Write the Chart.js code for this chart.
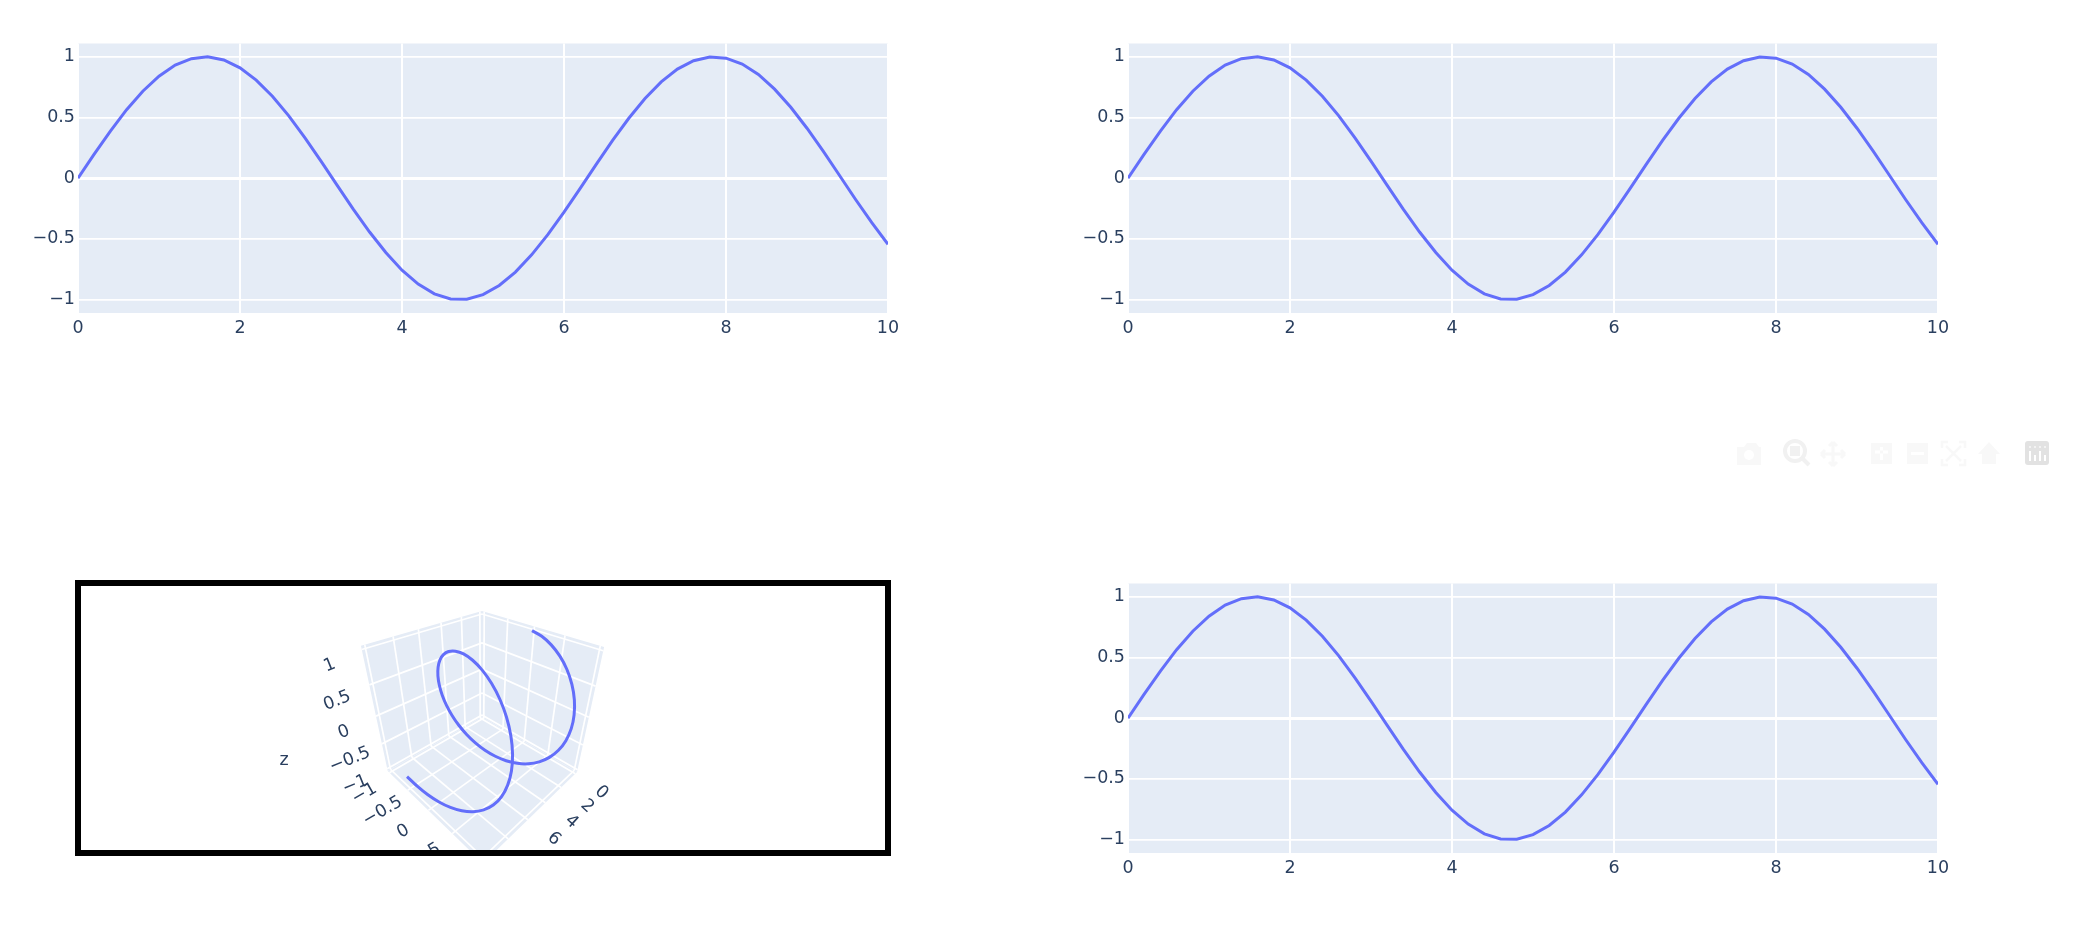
<!DOCTYPE html>
<html lang="en">
<head>
    <meta charset="UTF-8">
    <title>Subplots with a 3D scene</title>
    <script src="https://cdn.jsdelivr.net/npm/chart.js"></script>
    <style>
        html, body { margin: 0; background: #fff; overflow: hidden; }
        canvas { position: absolute; display: block; }
        #frame { position: absolute; left: 75px; top: 580px; width: 804px; height: 264px; border: 6px solid #000; }
        #modebar { position: absolute; left: 1720px; top: 430px; }
    </style>
</head>
<body>
    <canvas id="plot1" width="908" height="310" style="left: 0; top: 30px;"></canvas>
    <canvas id="plot2" width="908" height="310" style="left: 1050px; top: 30px;"></canvas>
    <canvas id="plot4" width="908" height="310" style="left: 1050px; top: 570px;"></canvas>
    <div id="frame"></div>
    <canvas id="scene" width="804" height="264" style="left: 81px; top: 586px;"></canvas>

    <svg id="modebar" width="362" height="50" viewBox="0 0 362 50">
        <g fill="#f8f8f8">
            <path d="M17 17h7l3-4h9l3 4h2v18h-24z"/>
            <rect x="151" y="13" width="21" height="21"/>
            <rect x="187" y="13" width="21" height="21"/>
            <path d="M258 24l11-12 11 12h-4v10h-14v-10z"/>
        </g>
        <circle cx="29" cy="25" r="5" fill="#fff"/>
        <path d="M113 12v24M101 24h24M113 12l-4 4M113 12l4 4M113 36l-4-4M113 36l4-4M101 24l4-4M101 24l4 4M125 24l-4-4M125 24l-4 4" stroke="#f8f8f8" stroke-width="3" fill="none"/>
        <path d="M155 23.500h13v-3h-13zM160 17h3v13h-3z" fill="#fff"/>
        <rect x="191" y="22" width="13" height="3" fill="#fff"/>
        <path d="M222 18v-6h6M239 12h6v6M245 29v6h-6M228 35h-6v-6M226 16l15 15M241 16l-15 15" stroke="#f8f8f8" stroke-width="2.500" fill="none"/>
        <circle cx="75" cy="21" r="10" fill="none" stroke="#f1f1f1" stroke-width="4"/>
        <rect x="70" y="16" width="10" height="10" fill="#f1f1f1"/>
        <path d="M82 28l7 7" stroke="#f1f1f1" stroke-width="4"/>
        <rect x="305" y="11" width="24" height="24" rx="3" fill="#e2e2e2"/>
        <path d="M309 21h2v10h-2zM314 25h2v6h-2zM319 21h2v10h-2zM324 25h2v6h-2z" fill="#fff"/>
        <path d="M309 16h2v2h-2zM314 16h2v2h-2zM319 16h2v2h-2zM324 16h2v2h-2z" fill="#f3f3f3"/>
    </svg>

    <script>
        const xValues = [0, 0.2, 0.4, 0.6, 0.8, 1, 1.2, 1.4, 1.6, 1.8, 2, 2.2, 2.4, 2.6, 2.8, 3, 3.2, 3.4, 3.6, 3.8, 4, 4.2, 4.4, 4.6, 4.8, 5, 5.2, 5.4, 5.6, 5.8, 6, 6.2, 6.4, 6.6, 6.8, 7, 7.2, 7.4, 7.6, 7.8, 8, 8.2, 8.4, 8.6, 8.8, 9, 9.2, 9.4, 9.6, 9.8, 10];
        const yValues = [0, 0.199, 0.389, 0.565, 0.717, 0.841, 0.932, 0.985, 1, 0.974, 0.909, 0.808, 0.675, 0.516, 0.335, 0.141, -0.058, -0.256, -0.443, -0.612, -0.757, -0.872, -0.952, -0.994, -0.996, -0.959, -0.883, -0.773, -0.631, -0.465, -0.279, -0.083, 0.117, 0.312, 0.494, 0.657, 0.794, 0.899, 0.968, 0.999, 0.989, 0.941, 0.855, 0.734, 0.585, 0.412, 0.223, 0.025, -0.175, -0.366, -0.544];
        const zValues = [1, 0.98, 0.921, 0.825, 0.697, 0.54, 0.362, 0.17, -0.029, -0.227, -0.416, -0.589, -0.737, -0.857, -0.942, -0.99, -0.998, -0.967, -0.897, -0.791, -0.654, -0.49, -0.307, -0.112, 0.087, 0.284, 0.469, 0.635, 0.776, 0.886, 0.96, 0.997, 0.993, 0.95, 0.869, 0.754, 0.608, 0.438, 0.251, 0.054, -0.146, -0.339, -0.52, -0.679, -0.811, -0.911, -0.975, -1, -0.984, -0.927, -0.839];

        const xTicks = [0, 2, 4, 6, 8, 10];
        const yTicks = [-1, -0.5, 0, 0.5, 1];
        const zTicks = [-1, -0.5, 0, 0.5, 1];

        const xRange = [-0.25, 10.25];
        const yRange = [-1.05, 1.05];
        const zRange = [-1.05, 1.05];

        const lineColor = "#636efa";
        const paneColor = "#e5ecf6";
        const textColor = "#2a3f5f";
        const fontFamily = "'DejaVu Sans', Verdana, sans-serif";
        const fontSize = 17.5;
        const sceneFontSize = 17.5;

        // same minus sign plotly uses
        function tickText(v) {
            return String(v).replace("-", "\u2212");
        }

        const paneBackground = {
            id: "paneBackground",
            beforeDraw: (chart) => {
                const { ctx, chartArea: { left, right, top, bottom } } = chart;
                ctx.save();
                ctx.fillStyle = paneColor;
                ctx.fillRect(left, top, right - left, bottom - top);
                ctx.restore();
            }
        };

        function makePlot(id) {
            const points = xValues.map((x, i) => ({ x: x, y: yValues[i] }));
            return new Chart(document.getElementById(id), {
                type: "scatter",
                data: {
                    datasets: [{
                        data: points,
                        showLine: true,
                        borderColor: lineColor,
                        borderWidth: 3,
                        pointRadius: 0
                    }]
                },
                options: {
                    responsive: false,
                    animation: false,
                    layout: { padding: { top: 12.5, right: 20 } },
                    plugins: { legend: { display: false }, tooltip: { enabled: false } },
                    scales: {
                        x: {
                            type: "linear",
                            min: 0,
                            max: 10,
                            afterBuildTicks: (axis) => { axis.ticks = xTicks.map(v => ({ value: v })); },
                            afterFit: (axis) => { axis.height = 27; },
                            border: { display: false },
                            grid: { color: "#fff", lineWidth: 2, drawTicks: false },
                            ticks: {
                                color: textColor,
                                font: { family: fontFamily, size: fontSize },
                                padding: 5,
                                maxRotation: 0,
                                autoSkip: false,
                                callback: tickText
                            }
                        },
                        y: {
                            type: "linear",
                            min: -1.11,
                            max: 1.11,
                            afterBuildTicks: (axis) => { axis.ticks = yTicks.map(v => ({ value: v })); },
                            afterFit: (axis) => { axis.width = 78; },
                            border: { display: false },
                            grid: {
                                color: "#fff",
                                lineWidth: (c) => c.tick && c.tick.value === 0 ? 3 : 1.7,
                                drawTicks: false
                            },
                            ticks: {
                                color: textColor,
                                font: { family: fontFamily, size: fontSize },
                                padding: 3,
                                autoSkip: false,
                                callback: tickText
                            }
                        }
                    }
                },
                plugins: [paneBackground]
            });
        }

        makePlot("plot1");
        makePlot("plot2");
        makePlot("plot4");

        // camera of the 3D scene, fitted to the corners of the box in the picture
        const camOrigin = [482, 717];
        const camRight = [-22.1, -101.7, -0.203];
        const camLeft = [-173, -102.5, -0.203];
        const camUp = [-85, -213.8, -0.1764];

        function project(x, y, z) {
            const u = (y - yRange[0]) / (yRange[1] - yRange[0]);
            const v = (x - xRange[0]) / (xRange[1] - xRange[0]);
            const w = (z - zRange[0]) / (zRange[1] - zRange[0]);
            const d = 1 + camRight[2] * u + camLeft[2] * v + camUp[2] * w;
            return {
                x: (camOrigin[0] + camRight[0] * u + camLeft[0] * v + camUp[0] * w) / d,
                y: (camOrigin[1] + camRight[1] * u + camLeft[1] * v + camUp[1] * w) / d
            };
        }

        function pane(a, b, c, d) {
            return {
                data: [a, b, c, d, a].map(p => project(p[0], p[1], p[2])),
                showLine: true,
                fill: "shape",
                backgroundColor: paneColor,
                borderWidth: 0,
                pointRadius: 0
            };
        }

        function gridLine(a, b) {
            return {
                data: [project(a[0], a[1], a[2]), project(b[0], b[1], b[2])],
                showLine: true,
                borderColor: "#fff",
                borderWidth: 1.7,
                pointRadius: 0
            };
        }

        const [x0, x1] = xRange;
        const [y0, y1] = yRange;
        const [z0, z1] = zRange;

        const panes = [
            pane([x0, y0, z0], [x1, y0, z0], [x1, y0, z1], [x0, y0, z1]),
            pane([x0, y0, z0], [x0, y1, z0], [x0, y1, z1], [x0, y0, z1]),
            pane([x0, y0, z0], [x1, y0, z0], [x1, y1, z0], [x0, y1, z0])
        ];

        const gridLines = [];
        zTicks.forEach(z => {
            gridLines.push(gridLine([x0, y0, z], [x1, y0, z]));
            gridLines.push(gridLine([x0, y0, z], [x0, y1, z]));
        });
        xTicks.forEach(x => {
            gridLines.push(gridLine([x, y0, z0], [x, y0, z1]));
            gridLines.push(gridLine([x, y0, z0], [x, y1, z0]));
        });
        yTicks.forEach(y => {
            gridLines.push(gridLine([x0, y, z0], [x0, y, z1]));
            gridLines.push(gridLine([x0, y, z0], [x1, y, z0]));
        });

        const helix = {
            data: xValues.map((x, i) => project(x, yValues[i], zValues[i])),
            showLine: true,
            borderColor: lineColor,
            borderWidth: 3,
            pointRadius: 0,
            tension: 0.3
        };

        // rotated tick labels of the scene, anchored on the box edges
        const sceneLabels = {
            id: "sceneLabels",
            afterDatasetsDraw: (chart) => {
                const { ctx, scales } = chart;
                const put = (text, p, dx, dy, angle) => {
                    ctx.save();
                    ctx.translate(scales.x.getPixelForValue(p.x) + dx, scales.y.getPixelForValue(p.y) + dy);
                    ctx.rotate(angle * Math.PI / 180);
                    ctx.fillText(text, 0, 0);
                    ctx.restore();
                };
                ctx.save();
                ctx.fillStyle = textColor;
                ctx.font = sceneFontSize + "px " + fontFamily;
                ctx.textAlign = "center";
                ctx.textBaseline = "middle";
                xTicks.forEach(x => put(tickText(x), project(x, y1, z0), 26, 19, 42));
                yTicks.forEach(y => put(tickText(y), project(x1, y, z0), -25, 21, -30));
                zTicks.forEach(z => put(tickText(z), project(x1, y0, z), -32, 16, -22));
                put("z", { x: 284, y: 760 }, 0, 0, 0);
                ctx.restore();
            }
        };

        new Chart(document.getElementById("scene"), {
            type: "scatter",
            data: { datasets: [helix, ...gridLines, ...panes] },
            options: {
                responsive: false,
                animation: false,
                plugins: { legend: { display: false }, tooltip: { enabled: false } },
                scales: {
                    x: { type: "linear", min: 81, max: 885, display: false },
                    y: { type: "linear", min: 586, max: 850, reverse: true, display: false }
                }
            },
            plugins: [sceneLabels]
        });
    </script>
</body>
</html>
